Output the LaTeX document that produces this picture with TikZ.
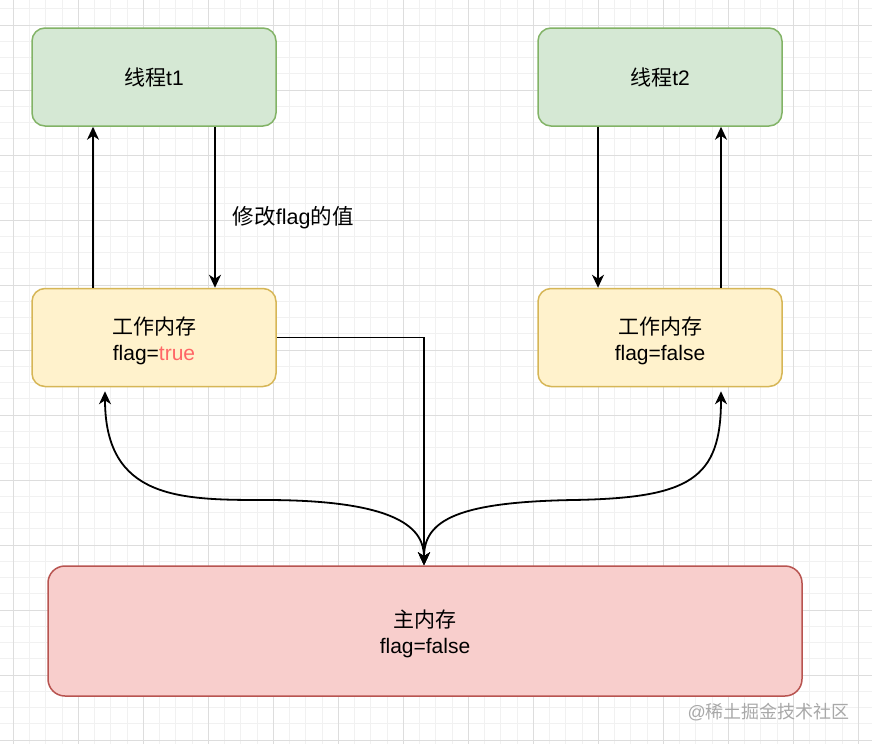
\documentclass[tikz,border=0pt]{standalone}
\usepackage{fontspec}
\setmainfont{Liberation Sans}
\newfontfamily\cjk{Noto Sans CJK SC}
\usetikzlibrary{arrows.meta,calc}
\definecolor{gmajor}{HTML}{DDDDDD}
\definecolor{gminor}{HTML}{F1F1F1}
\definecolor{gfill}{HTML}{D5E8D4}
\definecolor{gline}{HTML}{82B366}
\definecolor{yfill}{HTML}{FFF2CC}
\definecolor{yline}{HTML}{D6B656}
\definecolor{rfill}{HTML}{F8CECC}
\definecolor{rline}{HTML}{B85450}
\definecolor{redtext}{HTML}{FF6666}
\definecolor{wmark}{HTML}{A8A8A8}
\newcommand{\lowstrut}{\rule{0pt}{24pt}}
\tikzset{
  box/.style={draw, line width=1.5pt, rounded corners=13pt, minimum width=244pt, minimum height=98pt, inner sep=0pt, align=center, font=\fontsize{21}{26}\selectfont},
  thread/.style={box, fill=gfill, draw=gline},
  work/.style={box, fill=yfill, draw=yline},
  mainmem/.style={box, fill=rfill, draw=rline, minimum width=754pt, minimum height=130pt, rounded corners=17pt},
  conn/.style={line width=1.8pt, -{Stealth[length=13pt,width=12pt,inset=4pt]}},
  biconn/.style={line width=1.8pt, {Stealth[length=13pt,width=12pt,inset=4pt]}-{Stealth[length=13pt,width=12pt,inset=4pt]}},
  lbl/.style={font=\fontsize{21.5}{26}\selectfont, inner sep=0pt}
}
\begin{document}
\begin{tikzpicture}[x=1pt,y=-1pt]
\useasboundingbox (0,0) rectangle (872,744);
\fill[white] (0,0) rectangle (872,744);
% grid
\foreach \i in {0,...,53} {
  \draw[gminor, line width=0.8pt] ({13.3+16.25*\i},0) -- ({13.3+16.25*\i},744);
}
\foreach \i in {-1,...,45} {
  \draw[gminor, line width=0.8pt] (0,{25+16.25*\i}) -- (872,{25+16.25*\i});
}
\foreach \i in {0,...,13} {
  \draw[gmajor, line width=0.8pt] ({13.3+65*\i},0) -- ({13.3+65*\i},744);
}
\foreach \i in {0,...,11} {
  \draw[gmajor, line width=0.8pt] (0,{25+65*\i}) -- (872,{25+65*\i});
}
% nodes
\node[thread] (t1) at (154,77) {{\cjk 线程}t1};
\node[thread] (t2) at (660,77) {{\cjk 线程}t2};
\node[work] (wl) at (154,337.5) {\lowstrut{\cjk 工作内存}\\flag=\textcolor{redtext}{true}};
\node[work] (wr) at (660,337.5) {\lowstrut{\cjk 工作内存}\\flag=false};
\node[mainmem] (m) at (425,631) {\lowstrut{\cjk 主内存}\\flag=false};
% straight connectors
\draw[conn] ([xshift=-61pt]wl.north) -- ([xshift=-61pt]t1.south);
\draw[conn] ([xshift=61pt]t1.south) -- ([xshift=61pt]wl.north)
  node[lbl, midway, anchor=west, xshift=17pt, yshift=-10pt] (lab) {{\cjk 修改}flag{\cjk 的值}};
\draw[conn] ([xshift=-62pt]t2.south) -- ([xshift=-62pt]wr.north);
\draw[conn] ([xshift=61pt]wr.north) -- ([xshift=61pt]t2.south);
\draw[conn] (wl.east) -| ([xshift=-1pt]m.north);
% curved connectors
\coordinate (cl) at (265,500);
\coordinate (cr) at (573,500);
\coordinate (el) at ($(wl.south)+(-49,4)$);
\coordinate (er) at ($(wr.south)+(61,4)$);
\draw[biconn] ([xshift=-1pt]m.north) .. controls +(0,-36) and +(135,0) .. (cl)
  .. controls +(-85,0) and +(0,108) .. (el);
\draw[biconn] ([xshift=-1pt]m.north) .. controls +(0,-46) and +(-113,2) .. (cr)
  .. controls +(117,-2) and +(0,88) .. (er);
% watermark
\node[font=\fontsize{18}{22}\selectfont, text=wmark, inner sep=0pt, anchor=east] (wm) at (850,712) {@{\cjk 稀土掘金技术社区}};
\end{tikzpicture}
\end{document}
